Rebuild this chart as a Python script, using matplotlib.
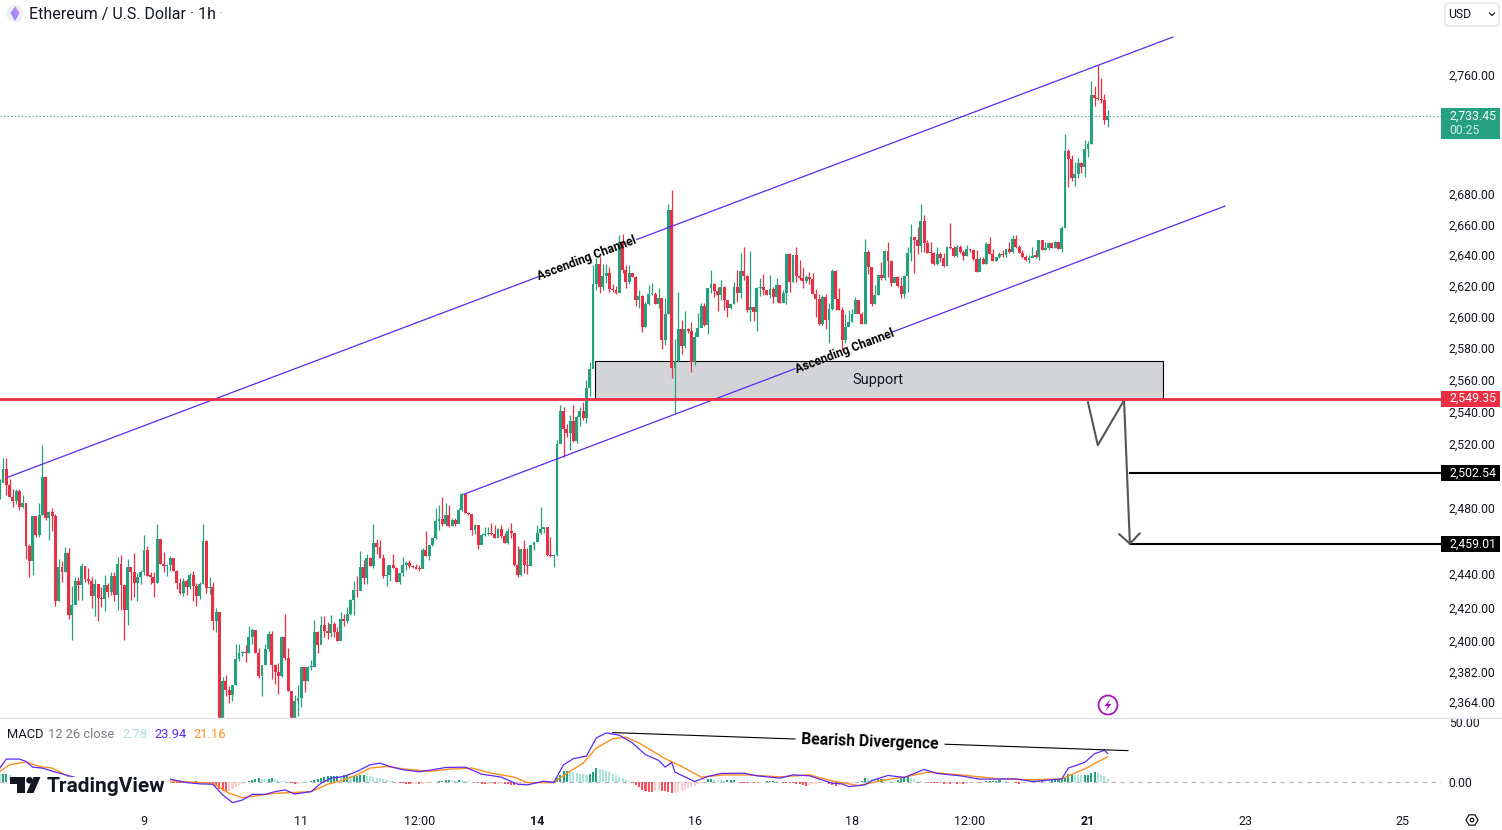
import numpy as np
import matplotlib
matplotlib.use("Agg")
import matplotlib.pyplot as plt
from matplotlib.patches import Rectangle, Polygon, Circle, FancyBboxPatch
from matplotlib.ticker import FixedLocator, FixedFormatter, NullLocator

plt.rcParams["font.family"] = ["Roboto", "DejaVu Sans"]

# ---------------------------------------------------------------------------
# Data. Hours are counted from the "9" tick.
# ---------------------------------------------------------------------------
first_hour = -44
first_open = 2490.0

closes = [
    2495.7, 2504, 2494, 2487, 2484.5, 2490.6, 2480.5, 2483, 2456.8, 2448,
    2475, 2463.5, 2475.7, 2499, 2474, 2477.5, 2475.5, 2424, 2444.4, 2441.4,
    2453, 2415.5, 2421.5, 2436, 2433.6, 2444.8, 2436.8, 2436, 2427, 2434,
    2425.6, 2425, 2433.6, 2429, 2439, 2427.4, 2446, 2433.4, 2418.4, 2444.2,
    2441, 2434.8, 2438.4, 2441, 2454.4, 2439, 2438.5, 2434.8, 2461, 2446,
    2444.8, 2445.4, 2449.6, 2442, 2434.6, 2428.6, 2436, 2432.2, 2439.4, 2432.6,
    2427, 2434, 2460, 2431.6, 2432.2, 2412, 2417, 2350, 2376.2, 2371.2,
    2368, 2374, 2389.6, 2393, 2393.6, 2392.8, 2402.6, 2406.8, 2393, 2379.6,
    2385.6, 2395, 2404.4, 2385.6, 2381.6, 2379.6, 2402.6, 2390, 2370.4, 2350,
    2364.8, 2366.6, 2384.4, 2376.2, 2384.4, 2384.8, 2405.6, 2397.8, 2409.6, 2406,
    2404.8, 2410.2, 2405.6, 2400.2, 2413.2, 2412, 2416.2, 2424.4, 2430.4, 2430,
    2444.2, 2437.4, 2449.6, 2444.8, 2458.6, 2456.2, 2449.6, 2438.6, 2439.2, 2445.2,
    2443.4, 2435.2, 2440.5, 2445.6, 2446.6, 2444.6, 2444.4, 2443, 2442.8, 2454.7,
    2451.2, 2457.7, 2461.8, 2472.3, 2473.3, 2470.5, 2476, 2469, 2472.6, 2470.5,
    2479, 2488.6, 2477, 2476.6, 2466.8, 2469.9, 2457.7, 2463.7, 2464.2, 2464.6,
    2464.3, 2462.1, 2467.4, 2462.8, 2458.5, 2465.8, 2464.8, 2445.6, 2439.6, 2455.3,
    2445.6, 2445, 2457.7, 2459.7, 2464.8, 2467.2, 2468.4, 2451.7, 2451, 2451.4,
    2519.6, 2540.4, 2529, 2526.4, 2534, 2521.8, 2536.8, 2540.4, 2536, 2554.6,
    2567, 2621, 2634, 2619.4, 2626.3, 2628, 2618, 2617.3, 2615.2, 2648.6,
    2630.2, 2622.6, 2628.6, 2625.9, 2610.6, 2613.2, 2593.7, 2608, 2614.4, 2615,
    2608.2, 2612.2, 2585, 2601.8, 2669.4, 2567.2, 2571.8, 2592, 2581.3, 2592,
    2591, 2571.2, 2587.3, 2592.6, 2607, 2594.7, 2618.4, 2621, 2616.8, 2614,
    2619, 2611, 2605.6, 2608.2, 2619, 2615.6, 2629.4, 2626.3, 2604.3, 2606.4,
    2603.3, 2618.4, 2619.4, 2617.3, 2614, 2617.7, 2613, 2620.5, 2609.2, 2615.6,
    2640.6, 2622.6, 2640, 2626.3, 2625.3, 2623.1, 2625.7, 2624.4, 2614.9, 2611.7,
    2595.6, 2612.8, 2598.2, 2605.3, 2629.7, 2611.7, 2604.6, 2585.4, 2593.5, 2596.7,
    2602, 2610.6, 2602, 2595.6, 2642, 2632.2, 2608, 2613.8, 2626.8, 2625,
    2642.4, 2636, 2622, 2625.7, 2620, 2614.5, 2626.1, 2641.4, 2652, 2650,
    2646, 2662, 2648, 2641.5, 2641, 2634.3, 2640.4, 2638.3, 2633, 2645.3,
    2644.8, 2639.3, 2645.3, 2641.8, 2639.3, 2643.8, 2643, 2637.4, 2629, 2637.6,
    2634.3, 2647.5, 2640.4, 2636, 2639, 2640.4, 2639.7, 2644.2, 2641.8, 2650.3,
    2645.3, 2641.6, 2638.7, 2636.5, 2638.3, 2639.3, 2639, 2649.7, 2643.5, 2644.8,
    2648, 2644.8, 2648.6, 2643.8, 2658, 2708.5, 2703.6, 2691, 2693.6, 2701,
    2698, 2710, 2713.7, 2746.4, 2744.6, 2743.7, 2743, 2729.5, 2732,
]

highs = [
    2497.7, 2511, 2511, 2498, 2492, 2491.5, 2491.5, 2488, 2481.5, 2458,
    2475.5, 2473, 2483, 2519, 2499.7, 2478.4, 2480, 2476.4, 2449, 2448,
    2456.5, 2455.6, 2433, 2438, 2438, 2446.4, 2444.8, 2443.6, 2438.4, 2436.8,
    2434, 2432.4, 2439.4, 2434.4, 2441.4, 2441.4, 2450.4, 2451.8, 2433.4, 2449.4,
    2444, 2453, 2440.8, 2442.4, 2463.5, 2456.8, 2441.4, 2441.4, 2470.6, 2461.5,
    2453.4, 2446, 2450.8, 2450, 2442.4, 2437.4, 2437.4, 2436.8, 2440.4, 2442,
    2434.4, 2435, 2470.6, 2460.5, 2438, 2435.4, 2419.6, 2415, 2379, 2379.8,
    2373.5, 2374, 2398, 2398, 2394, 2397.6, 2408.8, 2407.8, 2406.8, 2396,
    2386, 2398, 2405.8, 2406, 2386, 2387, 2403, 2416, 2396, 2370.8,
    2368, 2374, 2384.4, 2384, 2385.2, 2389, 2412.6, 2405.8, 2415, 2414.6,
    2411, 2415.6, 2411, 2408.2, 2417.4, 2416.2, 2420.5, 2424.8, 2436, 2438.8,
    2453.8, 2448.4, 2452.4, 2450.2, 2470.2, 2461.5, 2460.5, 2452.4, 2445.2, 2445.2,
    2452, 2444, 2440.5, 2450.2, 2447.6, 2448.6, 2445.6, 2445.8, 2445.6, 2455.7,
    2466.2, 2457.7, 2461.8, 2480, 2482, 2486.8, 2483, 2482, 2474, 2474,
    2480, 2489.6, 2488.2, 2477.6, 2474, 2470.5, 2470, 2464.8, 2468.8, 2468.8,
    2471, 2470, 2467.8, 2470, 2464.8, 2467.8, 2471, 2463.2, 2456.7, 2455.3,
    2460.8, 2455.7, 2457.7, 2459.7, 2469.9, 2481, 2468.8, 2468.8, 2462.4, 2452.2,
    2522.2, 2544, 2543, 2532, 2537.8, 2544, 2537.8, 2542.6, 2546, 2559.8,
    2571.4, 2633.4, 2638, 2638.5, 2634.4, 2634.4, 2632.2, 2621, 2620, 2653,
    2654, 2633.4, 2633.4, 2628, 2626.3, 2617.3, 2613.8, 2609.7, 2620.4, 2621.6,
    2616, 2618.4, 2612.4, 2612.4, 2673.8, 2683, 2585.8, 2616, 2598, 2603.7,
    2592.6, 2597, 2590.5, 2602.2, 2609, 2609, 2618.4, 2630.2, 2621.6, 2619.4,
    2624, 2620, 2609.4, 2608.2, 2622.2, 2630.2, 2641, 2645.4, 2627, 2642.4,
    2606.4, 2619.4, 2625, 2627.6, 2617.3, 2627, 2619.4, 2625, 2620.5, 2617.3,
    2640.6, 2641, 2640, 2645.4, 2637, 2632.2, 2627, 2629, 2628.4, 2618.2,
    2614.9, 2613.9, 2614.9, 2609, 2630.6, 2630.2, 2618.8, 2606.3, 2602, 2604.2,
    2605.3, 2612.8, 2610, 2603.1, 2650.8, 2643.1, 2632.2, 2620.3, 2626.8, 2635.4,
    2643.1, 2648.6, 2637, 2625.7, 2626.1, 2625.7, 2626.8, 2645.3, 2660, 2651.6,
    2658.4, 2673.7, 2666, 2650, 2648.5, 2642, 2645.3, 2642, 2641, 2645.7,
    2660.7, 2645.7, 2646.4, 2646.4, 2643, 2646.4, 2644.2, 2644.2, 2643, 2638.7,
    2639, 2648.6, 2652, 2644, 2639, 2642, 2643, 2644.2, 2648.6, 2652.8,
    2653.4, 2646.4, 2643, 2639.7, 2639.7, 2645.3, 2643, 2649.7, 2649.7, 2648.6,
    2648.6, 2648.6, 2649.3, 2648.6, 2659, 2720, 2710, 2706, 2701.4, 2704,
    2701.3, 2716, 2715.5, 2756, 2752.6, 2767, 2758, 2747, 2736,
]

lows = [
    2485.6, 2497, 2488, 2487, 2481, 2482.5, 2479, 2480, 2449, 2438.4,
    2439.4, 2462.5, 2462.5, 2475.7, 2473, 2460.5, 2466, 2421, 2424, 2435.4,
    2441, 2413, 2400.4, 2422.3, 2424.4, 2424.4, 2435.4, 2434, 2419.4, 2415,
    2411.6, 2420.5, 2417.6, 2426.4, 2427.4, 2424, 2418.4, 2418.4, 2400.8, 2409.6,
    2424.4, 2426.4, 2424, 2434, 2439.4, 2439, 2434, 2426.4, 2434.8, 2446,
    2441.4, 2439, 2442, 2442, 2431, 2428, 2427, 2427.4, 2431, 2424,
    2421, 2424.8, 2434, 2428.6, 2428, 2406.6, 2405.6, 2340, 2345, 2367.4,
    2363.6, 2364.8, 2374, 2388, 2391, 2387.5, 2393, 2398.4, 2393, 2378.4,
    2367.8, 2386, 2394, 2377.4, 2374.4, 2368.6, 2379, 2389, 2370.4, 2345,
    2345, 2356, 2361, 2370, 2376.2, 2383, 2384.4, 2393.2, 2399.6, 2402.6,
    2401.4, 2402.6, 2402.6, 2400.2, 2400.8, 2409.2, 2410.6, 2415.6, 2415.6, 2426.4,
    2432.2, 2434, 2434, 2444.8, 2443.6, 2452.4, 2449.6, 2437.4, 2433, 2435.6,
    2443.4, 2435.2, 2434, 2439, 2442.6, 2443.6, 2443.6, 2443, 2442, 2445,
    2451.2, 2448.6, 2456.7, 2461.4, 2466.8, 2469, 2469, 2468.4, 2469, 2469,
    2470.9, 2478.6, 2477, 2476, 2463.7, 2464.3, 2455.3, 2458.7, 2462.8, 2463.7,
    2463.7, 2461.7, 2462.8, 2461.7, 2458.5, 2458.3, 2461.7, 2445, 2438, 2438.6,
    2440.6, 2440.2, 2445, 2454.7, 2459.7, 2464.4, 2464.8, 2451, 2450.6, 2444,
    2451, 2522.2, 2511.5, 2524, 2516, 2521.2, 2520, 2530.6, 2534.8, 2532.6,
    2549.4, 2571.4, 2617.3, 2615.6, 2617.3, 2621.6, 2616.3, 2616.3, 2614.6, 2618,
    2628, 2618.4, 2621, 2625.9, 2607, 2605.6, 2590, 2593.3, 2607.6, 2614,
    2608.2, 2605.4, 2579.4, 2582, 2601.8, 2560.8, 2539.3, 2571.4, 2576.3, 2580.3,
    2589.6, 2565, 2569, 2588.3, 2593.7, 2594.3, 2589.3, 2615.2, 2612.6, 2604,
    2611, 2604.4, 2600, 2605.2, 2608.2, 2609.4, 2612, 2623.7, 2603.3, 2597.5,
    2597.5, 2591, 2613.4, 2614, 2614, 2612, 2608.6, 2609.7, 2608.6, 2609.7,
    2608.2, 2616, 2622.6, 2622.6, 2623.5, 2618.8, 2621.8, 2621.4, 2614.9, 2599.9,
    2594.6, 2594.6, 2592.4, 2583.3, 2604.2, 2604.2, 2604.6, 2578.6, 2583.3, 2594.6,
    2596.7, 2603.1, 2602, 2595.6, 2595.6, 2627.5, 2607.3, 2608, 2613.8, 2623.5,
    2623.5, 2625.7, 2619.7, 2623.1, 2619.3, 2612.4, 2612.4, 2616, 2636, 2628.2,
    2640.4, 2642, 2642, 2641.3, 2634.7, 2633.2, 2633.2, 2635.4, 2632.2, 2633.2,
    2644.2, 2638.7, 2638.7, 2641.3, 2636.5, 2639.1, 2642, 2637, 2629, 2629.6,
    2633.9, 2634.3, 2640.4, 2636, 2636, 2638.3, 2638.7, 2639, 2641.6, 2641.6,
    2644.8, 2641.6, 2638.3, 2636, 2635, 2638.7, 2638.3, 2637, 2643.5, 2643.5,
    2643.5, 2644.4, 2644.8, 2643.8, 2642, 2658, 2684.8, 2689, 2685.4, 2691,
    2694, 2691.4, 2704.8, 2713.3, 2739, 2743, 2741.3, 2727, 2725,
]

price_ticks = [2760, 2680, 2660, 2640, 2620, 2600, 2580, 2560, 2540, 2520,
               2480, 2440, 2420, 2400, 2382, 2364]
time_ticks = [0, 48, 84, 120, 168, 216, 252, 288, 336, 384]
time_labels = ["9", "11", "12:00", "14", "16", "18", "12:00", "21", "23", "25"]
time_bold = ["14", "21"]

# where the horizontal lines sit on the picture's tick scale
last_line = 2732
support_line = 2548
target_lines = [2501.7, 2458]
support_top = 2572

macd_hours = [-44, -42, -38, -36, -34, -31, -27, -20, -10, 0, 8, 13, 17, 21, 24, 27, 30, 33, 37,
              40, 43, 46, 51, 54, 57, 61, 65, 69, 72, 75, 79, 84, 88, 92, 98, 103, 109, 114,
              117, 122, 125, 128, 131, 135, 138, 141, 145, 149, 153, 157, 159, 161, 162, 168,
              172, 176, 183, 187, 194, 198, 203, 210, 213, 215, 220, 222, 227, 232, 238, 242,
              249, 255, 266, 271, 280, 282, 287, 290, 293, 294]
macd_line = [11.6, 19.2, 19.2, 17.2, 12.4, 11.6, 8.2, 3, -1, 0, 2.3, -0.6, -1.7, -2, -11, -17.5,
             -15.3, -10.5, -10.5, -8.2, -6.8, -10.2, -8.2, -1.1, 3.1, 4.5, 8.8, 14.4, 15.8, 13,
             10.2, 8.5, 10.2, 12.1, 12.4, 6.5, 4, -2, -2.5, 0.6, -0.6, 14.4, 19.5, 21.8, 37, 41.2,
             39.3, 32.8, 22.9, 18.1, 12.4, 16.4, 8.2, 0.3, 4.5, 7.1, 7.3, 5.1, 3.1, 5.9, 5.1,
             -1.1, -1.7, -4, -2.5, 1.1, 5.4, 3.7, 10.5, 7.1, 5.1, 2.3, 2.5, 0.3, 2.5, 11.6, 16.4,
             23.7, 26.6, 23.94]

signal_hours = [-44, -41, -36, -32, -28, -22, -10, 8, 21, 26, 30, 34, 40, 45, 51, 56, 61, 65, 69,
                74, 79, 87, 93, 100, 106, 113, 117, 125, 129, 134, 138, 143, 147, 151, 159, 164,
                170, 177, 184, 194, 203, 210, 218, 226, 232, 239, 249, 261, 271, 280, 287, 294]
signal_line = [8.8, 14.4, 16.7, 13, 11.6, 3.1, 0, 0.8, -1.1, -9.6, -13.3, -11.9, -9.6, -9, -8.2,
               -2, 1.7, 5.9, 11.6, 13, 11, 8.8, 10.7, 11.6, 7.3, 4, -0.6, -0.6, 7.3, 15.8, 28.5,
               36.4, 37.6, 32.8, 19.5, 13, 4, 5.9, 5.9, 4.2, 5.9, 0.8, -3.1, 1.7, 4, 8.2, 5.9,
               2.5, 1.7, 2.5, 11, 21.16]

hist_left = [6.5, 6.5, 6.5, 6]  # hours -44 to -41, the rest sits behind the logo
hist_values = [
    -0.4, -0.6, -0.8, -0.9, -1.0, -1.0, -0.8, -0.5, 0.6, 0.3, -0.3, -0.6, -0.8, -1.2,
    -3.5, -6, -8, -8.5, -7.5, -6, -4.5, -3, -2,
    -0.8, 0.5, 1.5, 2.5, 3, 2.6, 2.2, 2.8, 3, 2.2, 1.6, 1.0, 0.5, -0.4,
    -1.2, -2, -1.4, -0.9, -0.4, 0.3, 1, 1.5,
    2, 3, 4, 4.8, 5, 5.2, 5.2, 4.8, 5.4, 5.4, 5, 5, 5.2, 5.4, 5.6, 5.2, 4.6, 4.2, 3.6, 3, 2.6, 1.6, 1,
    0.4, -0.4, -0.8, -1.2, -1.6, -1.8, -1.8, -1.6, -1.8, -1.4, -1.2, -0.8, -0.4, 0.3, 0.8,
    1, 1.2, 1.4, 1.2, 1, 1.4, 1.2, 0.8, 0.5, 0.2, -0.4, -1, -1.6, -2, -1.8,
    -1.6, -1.8, -1.6, -1.2, -1.4, -2.2, -2.6, -3, -2.6, -2, -1.4, -1, -0.6, -0.4, 0.2, 0.4,
    0.2, 0.3, 0.5, 1, 3, 6,
    9, 9.5, 9, 8, 7.4, 7, 6.5, 6, 6.8, 8.5, 11.6, 11, 10, 9, 8, 7, 6, 4.5, 3, 1.5, 0.5,
    -1, -2.5, -4.5, -6.5, -8, -8.6, -8.8, -7.6, -7, -7.4, -8, -8.6, -9.4, -9, -8.4, -7.5, -6.6,
    -5.5, -4.5, -3.2, -2, -1, -0.5,
    2, 2.2, 1.8, 1.6, 1.2, 0.8, 1.2, 1.6, 1.8,
    -0.2, -0.6, -0.8, -1, -0.8, -1.2, -1, -0.7, -0.5,
    0.4, 0.8, 0.9, 0.6,
    -0.4, -0.6, -0.8, -1, -1.3, -1.8, -2.2, -2.8, -3.4, -2.5, -1.8, -1.4, -1, -0.8, -0.4,
    -2, -2.8, -3.4, -2.6, -2, -1.5, -1.2, -1, -0.6, -0.3,
    1, 3.2, 3, 2.4, 2, 2.6, 2.8, 2, 1, 0.6, 0.3, 1.5, 3, 4, 4.2, 3, 2, 1, 0.6, 0.3, -0.3, -0.6,
    -1, -1.2, -1, -1.4, -1.4, -1.6, -1.2, -1.6, -1.4, -1.8, -1.6, -1.2, -1, -0.8, -0.4, -0.2, 0.4, 0.6,
    0.8, 1, 1.4, 1, 0.6, 0.2, -0.4, -1, -1.4, -1.2, -0.6, -0.4, 0.2, 0.6, 0.8, 1, 0.8, 0.6, 1.2, 1.4, 1.4,
    2, 4.5, 6.5, 6.8, 6, 5.6, 5.4, 5.6, 6.2, 7.4, 8.4, 7.6, 6.2, 4.6, 2.78,
]

# drawings on the chart, as (hour, price)
channel_upper = [(-41.5, 2499.1), (120.2, 2625.8), (150.4, 2650.2), (313.9, 2786)]
channel_lower = [(97.6, 2488.6), (198.6, 2566.9), (228.2, 2590.2), (329.8, 2672.1)]
zigzag_hours = [288, 291, 299]
zigzag_prices = [2545.7, 2518.9, 2547]
arrow_end = (300.8, 2457.5)

# ---------------------------------------------------------------------------
# Style
# ---------------------------------------------------------------------------
W, H = 1502, 830
PANE_R, PANE_B, MACD_B = 1441, 717.5, 808

UP = "#26A17F"
DOWN = "#EA2F45"
PURPLE = "#5D28F5"
ORANGE = "#FF8F1F"
TEXT = "#131722"
BORDER = "#E0E3EB"

fig = plt.figure(figsize=(W / 100, H / 100), dpi=100, facecolor="white")
ax = fig.add_axes([0, 1 - PANE_B / H, PANE_R / W, PANE_B / H])
ax_macd = fig.add_axes([0, 1 - MACD_B / H, PANE_R / W, (MACD_B - PANE_B) / H], sharex=ax)
ui = fig.add_axes([0, 0, 1, 1], zorder=10)
ui.set_xlim(0, W)
ui.set_ylim(H, 0)
ui.axis("off")
ui.patch.set_alpha(0)

# ---------------------------------------------------------------------------
# Price pane
# ---------------------------------------------------------------------------
hours = first_hour + np.arange(len(closes))
closes_a = np.array(closes, dtype=float)
opens_a = np.array([first_open] + closes[:-1], dtype=float)
colors = [UP if c >= o else DOWN for o, c in zip(opens_a, closes_a)]

ax.add_patch(Rectangle((137.5, support_line), 311 - 137.5, support_top - support_line,
                       facecolor="#D3D4D7", edgecolor="black", linewidth=0.8, zorder=1))
ax.vlines(hours, lows, highs, colors=colors, linewidth=0.9, zorder=2)
ax.bar(hours, np.maximum(np.abs(closes_a - opens_a), 0.7), bottom=np.minimum(opens_a, closes_a),
       width=0.88, color=colors, linewidth=0, zorder=2)

ax.axhline(last_line, color=UP, linewidth=0.8, linestyle=(0, (1, 2.2)), zorder=1.5)
ax.axhline(support_line, color=DOWN, linewidth=2, zorder=4)

for pts in (channel_upper, channel_lower):
    ax.plot([pts[0][0], pts[1][0]], [pts[0][1], pts[1][1]], color=PURPLE, linewidth=0.9, zorder=3)
    ax.plot([pts[2][0], pts[3][0]], [pts[2][1], pts[3][1]], color=PURPLE, linewidth=0.9, zorder=3)

for price in target_lines:
    ax.plot([arrow_end[0], 500], [price, price], color="black", linewidth=1.5, zorder=3)

ax.plot(zigzag_hours, zigzag_prices, color="#555558", linewidth=1.5, zorder=3)
ax.annotate("", xy=arrow_end, xytext=(zigzag_hours[-1], zigzag_prices[-1]),
            arrowprops=dict(arrowstyle="->,head_length=0.33,head_width=0.34", color="#555558",
                            linewidth=1.5, shrinkA=0, shrinkB=0, mutation_scale=22), zorder=3)

ax.set_yscale("log")
ax.set_xlim(-43.93, 395.7)
ax.set_ylim(2355.1, 2811.6)
ax.yaxis.set_major_locator(FixedLocator(price_ticks))
ax.yaxis.set_major_formatter(FixedFormatter([f"{p:,.2f}" for p in price_ticks]))
ax.yaxis.set_minor_locator(NullLocator())
ax.yaxis.tick_right()
ax.tick_params(axis="y", length=0, pad=5.6, labelsize=8.8, labelcolor=TEXT)
ax.tick_params(axis="x", length=0, labelbottom=False)
for s in ax.spines.values():
    s.set_visible(False)

# ---------------------------------------------------------------------------
# MACD pane
# ---------------------------------------------------------------------------
hist_hours = np.concatenate([np.arange(-44, -40), np.arange(8, 8 + len(hist_values))])
hist = np.array(hist_left + hist_values)
hist_colors = []
for i, v in enumerate(hist):
    rising = i > 0 and v >= hist[i - 1]
    if v >= 0:
        hist_colors.append(UP if rising else "#ACE5DC")
    else:
        hist_colors.append("#FCCBCD" if rising else "#F7525F")

ax_macd.axhline(0, color="#B2B5BE", linewidth=0.8, linestyle=(0, (4, 4)), zorder=1)
ax_macd.bar(hist_hours, hist, width=0.62, color=hist_colors, linewidth=0, zorder=2)
ax_macd.plot(signal_hours, signal_line, color=ORANGE, linewidth=1, zorder=3)
ax_macd.plot(macd_hours, macd_line, color=PURPLE, linewidth=0.9, zorder=3)

ax_macd.plot([143, 198.6], [41.5, 36.1], color="black", linewidth=0.8, zorder=4)
ax_macd.plot([244.4, 300.2], [31.7, 26.3], color="black", linewidth=0.8, zorder=4)

ax_macd.set_ylim(-22, 54.2)
ax_macd.set_yticks([0, 50])
ax_macd.set_yticklabels(["0.00", "50.00"])
ax_macd.yaxis.tick_right()
ax_macd.tick_params(axis="y", length=0, pad=5.6, labelsize=8.8, labelcolor=TEXT)
ax_macd.set_xticks(time_ticks)
ax_macd.set_xticklabels(time_labels)
ax_macd.tick_params(axis="x", length=0, pad=5, labelsize=9, labelcolor=TEXT)
for lab in ax_macd.get_xticklabels():
    if lab.get_text() in time_bold:
        lab.set_fontweight("bold")
for s in ax_macd.spines.values():
    s.set_visible(False)

# ---------------------------------------------------------------------------
# Screen furniture, in pixels
# ---------------------------------------------------------------------------
ui.plot([0, W], [PANE_B, PANE_B], color=BORDER, linewidth=1)

# labels on the drawings
ui.text(587, 258, "Ascending Channel", fontsize=8.7, fontweight="bold", color="black",
        rotation=20.7, rotation_mode="anchor", ha="center", va="center")
ui.text(845, 351, "Ascending Channel", fontsize=8.7, fontweight="bold", color="black",
        rotation=20.7, rotation_mode="anchor", ha="center", va="center")
ui.text(878, 379.5, "Support", fontsize=10.5, color=TEXT, ha="center", va="center")
ui.text(870, 742, "Bearish Divergence", fontsize=11.3, fontweight="bold", color="black",
        rotation=-2, rotation_mode="anchor", ha="center", va="center")

# header
ui.add_patch(Circle((15, 13.5), 8.5, facecolor="#EEEEF6", edgecolor="none"))
ui.add_patch(Polygon([(15, 6.5), (19.5, 13), (15, 21), (10.5, 13)], facecolor="#9A8CF2", edgecolor="none"))
ui.add_patch(Polygon([(15, 6.5), (19.5, 13), (15, 15.5)], facecolor="#C08CEE", edgecolor="none"))
ui.text(29, 14.5, "Ethereum / U.S. Dollar \u00b7 1h", fontsize=11.5, color=TEXT, ha="left", va="center")
ui.text(219, 14.5, "\u00b7", fontsize=11.5, color="#B2B5BE", ha="left", va="center")

# currency button
ui.add_patch(FancyBboxPatch((1445, 3), 54, 23, boxstyle="round,pad=0,rounding_size=4",
                            facecolor="white", edgecolor=BORDER, linewidth=1))
ui.text(1448, 14, "USD", fontsize=8.8, color=TEXT, ha="left", va="center")
ui.plot([1489.5, 1492, 1494.5], [13, 15.5, 13], color=TEXT, linewidth=0.9)

# price tags
ui.add_patch(Rectangle((1441, 108), 59, 31, facecolor=UP, edgecolor="none"))
ui.text(1449, 116, "2,733.45", fontsize=8.8, color="white", ha="left", va="center")
ui.text(1449, 130, "00:25", fontsize=8.8, color="#C9EEE6", ha="left", va="center")
ui.add_patch(Rectangle((1441, 390.5), 59, 16, facecolor=DOWN, edgecolor="none"))
ui.text(1449, 398.5, "2,549.35", fontsize=8.8, color="white", ha="left", va="center")
ui.add_patch(Rectangle((1441, 465), 59, 16, facecolor="black", edgecolor="none"))
ui.text(1449, 473, "2,502.54", fontsize=8.8, color="white", ha="left", va="center")
ui.add_patch(Rectangle((1441, 536), 59, 16, facecolor="black", edgecolor="none"))
ui.text(1449, 544, "2,459.01", fontsize=8.8, color="white", ha="left", va="center")

# MACD legend
x_pos = {"MACD": (7, TEXT), "12 26 close": (48, "#787B86"), "2.78": (122, "#ACE5DC"),
         "23.94": (154, PURPLE), "21.16": (193, ORANGE)}
for label, (x, col) in x_pos.items():
    ui.text(x, 734.5, label, fontsize=9.3, color=col, ha="left", va="center")

# logo with its white patch
ui.add_patch(Rectangle((8, 777), 162, 24, facecolor="white", edgecolor="none"))
ui.add_patch(Polygon([(10, 777), (24.5, 777), (24.5, 793), (16.5, 793), (16.5, 783.5), (10, 783.5)],
                     facecolor=TEXT, edgecolor="none"))
ui.add_patch(Circle((29.5, 780.3), 3.3, facecolor=TEXT, edgecolor="none"))
ui.add_patch(Polygon([(33.5, 777), (40.5, 777), (33.5, 793), (26.5, 793)], facecolor=TEXT, edgecolor="none"))
ui.text(46.5, 786, "TradingView", fontsize=15, fontweight="bold", color=TEXT, ha="left", va="center")

# lightning badge
ui.add_patch(Circle((1108, 705), 9.5, facecolor="white", edgecolor="#A514B5", linewidth=1.3))
ui.add_patch(Polygon([(1110.5, 699), (1104.5, 706), (1107.8, 706), (1105.5, 711), (1111.5, 704), (1108.2, 704)],
                     facecolor="#A514B5", edgecolor="none"))

# settings gear
ui.add_patch(Polygon([(1466, 820), (1469, 814.8), (1475, 814.8), (1478, 820), (1475, 825.2), (1469, 825.2)],
                     facecolor="white", edgecolor=TEXT, linewidth=0.9))
ui.add_patch(Circle((1472, 820), 1.8, facecolor="white", edgecolor=TEXT, linewidth=0.9))

fig.savefig("out.png", dpi=100, facecolor="white")
